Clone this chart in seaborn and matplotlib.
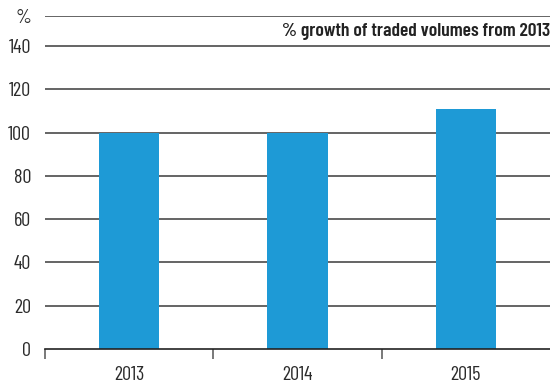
import matplotlib
matplotlib.use("Agg")
import matplotlib.pyplot as plt
import seaborn as sns
import pandas as pd

years = ["2013", "2014", "2015"]
growth = [100, 100, 111]
y_ticks = [0, 20, 40, 60, 80, 100, 120, 140]
title = "% growth of traded volumes from 2013"

sns.set_theme(style="white")
plt.rcParams["font.family"] = ["Barlow Condensed", "DejaVu Sans"]

df = pd.DataFrame({"year": years, "growth": growth})

fig = plt.figure(figsize=(5.5, 3.83), dpi=100)
ax = fig.add_axes([45 / 550, 34 / 383, 505 / 550, 333 / 383])

sns.barplot(data=df, x="year", y="growth", color="#1E9AD6", width=0.36,
            saturation=1, linewidth=0, ax=ax)
for p in ax.patches:
    p.set_zorder(3)

ymax = 153.9
ax.set_ylim(0, ymax)
ax.set_xlim(-0.5, 2.5)

# horizontal rules at each tick, plus the top rule carrying the unit
for v in y_ticks[1:] + [ymax]:
    ax.axhline(v, color="#3a3a3a", lw=1.1, zorder=1)

ax.set_yticks(y_ticks + [ymax])
ax.set_yticklabels([str(v) for v in y_ticks] + ["%"])
ax.tick_params(axis="y", length=0, pad=10, labelsize=14.5, labelcolor="#2b2b2b")

ax.set_xticks([0, 1, 2])
ax.set_xticklabels(years)
ax.set_xticks([-0.5, 0.5, 1.5], minor=True)
ax.tick_params(axis="x", which="major", length=0, pad=12, labelsize=14.5,
               labelcolor="#2b2b2b")
ax.tick_params(axis="x", which="minor", length=7, width=1.1, color="#555555",
               direction="out", bottom=True)

for side in ["top", "right", "left"]:
    ax.spines[side].set_visible(False)
ax.spines["bottom"].set_color("#222222")
ax.spines["bottom"].set_linewidth(1.2)
ax.spines["bottom"].set_zorder(4)

ax.set_xlabel("")
ax.set_ylabel("")

ax.text(1.0, (140 + ymax) / 2, title, transform=ax.get_yaxis_transform(),
        ha="right", va="center", fontsize=14, fontweight="semibold",
        color="#222222")

fig.savefig("out.png", dpi=100)
